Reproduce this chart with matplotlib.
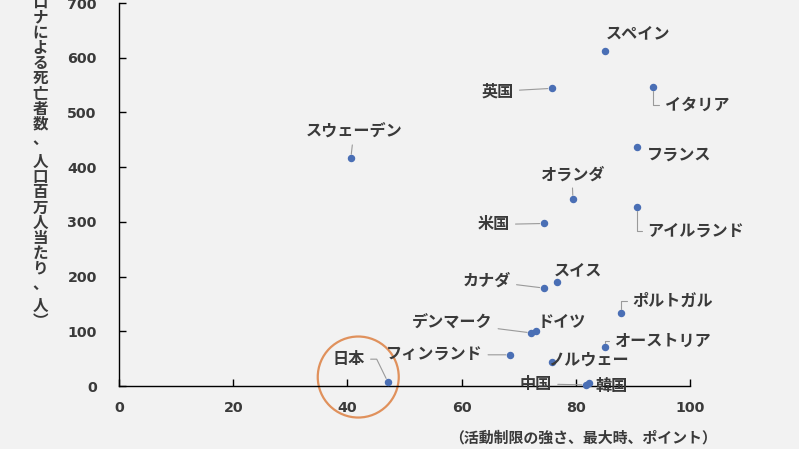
import matplotlib
matplotlib.use("Agg")
import matplotlib.pyplot as plt
from matplotlib.patches import Ellipse

plt.rcParams['font.family'] = ['Noto Sans CJK JP', 'DejaVu Sans']

# ---- data ----
countries = ["スペイン", "英国", "イタリア", "フランス", "スウェーデン", "オランダ",
             "アイルランド", "米国", "スイス", "カナダ", "ポルトガル", "ドイツ",
             "デンマーク", "オーストリア", "フィンランド", "ノルウェー", "日本",
             "中国", "韓国"]
stringency = [85.1, 75.8, 93.5, 90.7, 40.6, 79.5, 90.7, 74.4, 76.7, 74.4,
              87.9, 73.0, 72.2, 85.1, 68.5, 75.8, 47.1, 81.8, 82.3]
deaths = [613, 544, 546, 436, 416, 341, 328, 297, 190, 179,
          133, 100, 97, 71, 57, 44, 7, 2, 5]

xticks = [0, 20, 40, 60, 80, 100]
yticks = [0, 100, 200, 300, 400, 500, 600, 700]
xlabel = "（活動制限の強さ、最大時、ポイント）"
ylabel = "︵新型コロナによる死亡者数、 人口百万人当たり、 人︶"

# ---- layout (label offsets in pixels, leader style) ----
offsets = {
    "スペイン": (33, 17, None), "英国": (-54, -3, "line"), "イタリア": (44, -18, "elbow"),
    "フランス": (42, -7, None), "スウェーデン": (3, 27, "line"), "オランダ": (-1, 25, "line"),
    "アイルランド": (59, -24, "elbow"), "米国": (-50, -1, "line"), "スイス": (21, 12, None),
    "カナダ": (-57, 7, "line"), "ポルトガル": (52, 12, "elbow"), "ドイツ": (26, 9, None),
    "デンマーク": (-79, 10, "line"), "オーストリア": (58, 6, "elbow"),
    "フィンランド": (-76, 0, "line"), "ノルウェー": (37, 2, None), "日本": (-39, 23, "japan"),
    "中国": (-50, 1, "line"), "韓国": (23, -3, None),
}

bg = "#F2F2F2"
txt = "#3A3A3A"
fig = plt.figure(figsize=(7.99, 4.49), dpi=100, facecolor=bg)
ax = fig.add_axes([119/799, 1-386/449, (690-119)/799, (386-3)/449])
ax.set_facecolor(bg)

ax.scatter(stringency, deaths, s=19, color="#4A6FB5", zorder=3, clip_on=False)

ax.set_xlim(0, 100)
ax.set_ylim(0, 700)
ax.set_xticks(xticks)
ax.set_yticks(yticks)
for s in ["top", "right"]:
    ax.spines[s].set_visible(False)
for s in ["left", "bottom"]:
    ax.spines[s].set_color("black")
    ax.spines[s].set_linewidth(1.0)
ax.tick_params(axis="both", direction="in", length=5, width=1, colors="black",
               labelcolor=txt)
ax.tick_params(axis="x", pad=11)
ax.tick_params(axis="y", pad=16)
for lab in ax.get_xticklabels() + ax.get_yticklabels():
    lab.set_fontfamily("DejaVu Sans")
    lab.set_fontweight("bold")
    lab.set_fontsize(10.3)

lc = "#9A9A9A"
for name, x, y in zip(countries, stringency, deaths):
    dx, dy, style = offsets[name]
    kw = dict(xy=(x, y), xytext=(dx, dy), textcoords="offset pixels",
              ha="center", va="center", fontsize=11.6, fontweight="bold",
              color=txt, zorder=4, annotation_clip=False)
    if style == "line":
        kw["arrowprops"] = dict(arrowstyle="-", color=lc, lw=0.8, shrinkA=2, shrinkB=3)
    elif style == "elbow":
        kw["arrowprops"] = dict(arrowstyle="-", color=lc, lw=0.8, shrinkA=2, shrinkB=3,
                                connectionstyle="angle,angleA=0,angleB=90,rad=0")
    elif style == "japan":
        kw["arrowprops"] = dict(arrowstyle="-", color=lc, lw=0.8, shrinkA=2, shrinkB=3,
                                connectionstyle="angle,angleA=0,angleB=-64,rad=0")
    ax.annotate(name, **kw)

# orange highlight circle around Japan
ax.add_patch(Ellipse((41.9, 16.4), width=81/5.71, height=81/0.5471, fill=False,
                     edgecolor="#E0915C", lw=1.6, clip_on=False, zorder=2))

# x label
fig.text(717/799, 1-437/449, xlabel, ha="right", va="center", fontsize=10.75,
         fontweight="bold", color=txt)

# y label, stacked vertically (one character per cell)
pitch = 15.2
heights = [pitch/2 if c == " " else pitch for c in ylabel]
top = 321.5 + pitch/2 - sum(heights)
pos = top
for c, h in zip(ylabel, heights):
    if c != " ":
        fig.text(40/799, 1-(pos + h/2)/449, c, ha="center", va="center",
                 fontsize=11.2, fontweight="bold", color=txt)
    pos += h

fig.savefig("out.png", dpi=100, facecolor=bg)
